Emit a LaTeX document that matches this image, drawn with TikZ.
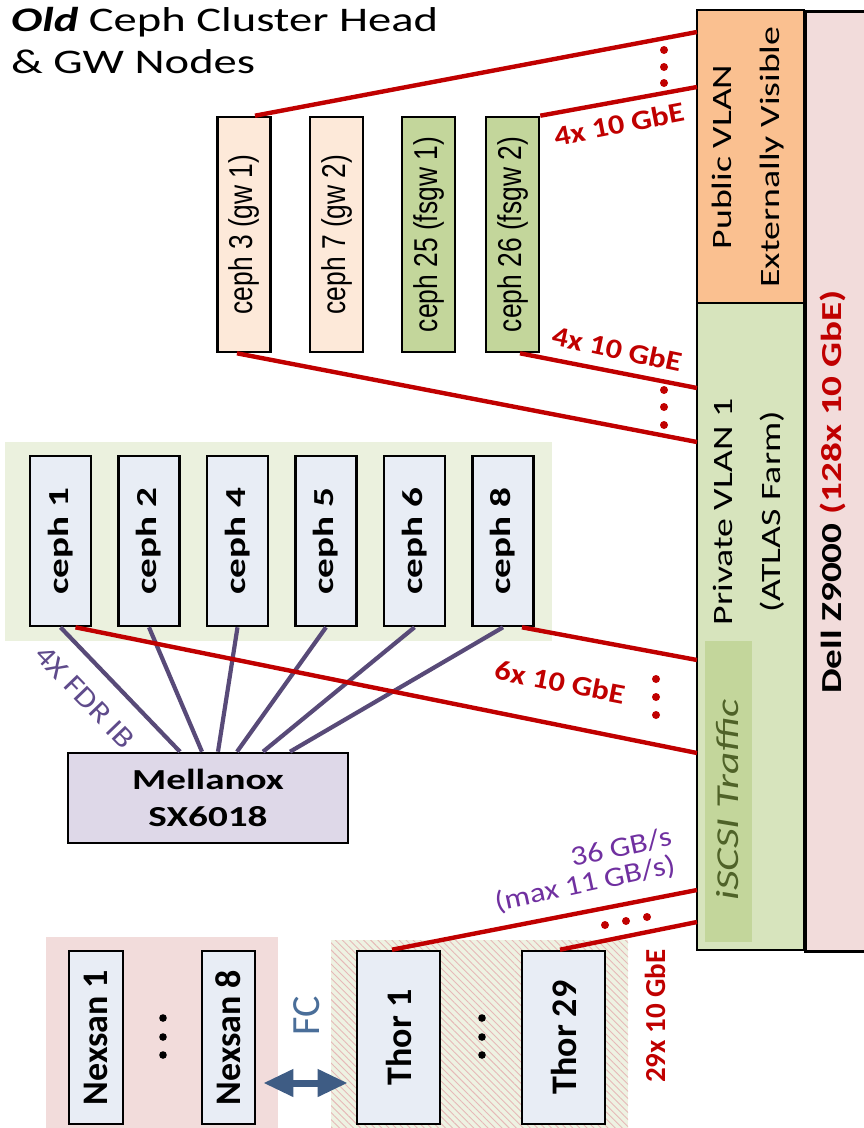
\documentclass[tikz,border=0pt]{standalone}
\usepackage{fontspec}
\setmainfont{Carlito}
\newfontfamily\widefont[FakeStretch=1.35]{Carlito}
\newfontfamily\midfont[FakeStretch=1.15]{Carlito}
\newfontfamily\gwfont[FakeStretch=0.8]{Liberation Sans}
\usetikzlibrary{positioning,calc,arrows.meta,patterns.meta}
\definecolor{linkred}{HTML}{C00000}
\definecolor{ibpurple}{HTML}{584A78}
\definecolor{fdrpurple}{HTML}{5F4B8B}
\definecolor{lblpurple}{HTML}{7030A0}
\definecolor{gwpeach}{HTML}{FDE9D9}
\definecolor{gwgreen}{HTML}{C3D69B}
\definecolor{storfill}{HTML}{E8EDF5}
\definecolor{storbg}{HTML}{EBF1DE}
\definecolor{mlxfill}{HTML}{DED8E8}
\definecolor{pubfill}{HTML}{FAC090}
\definecolor{privfill}{HTML}{D7E4BD}
\definecolor{iscsifill}{HTML}{C3D69B}
\definecolor{iscsitext}{HTML}{4F6228}
\definecolor{dellfill}{HTML}{F2DCDB}
\definecolor{nexbg}{HTML}{F2DCDB}
\definecolor{thorbg}{HTML}{EEF2E2}
\definecolor{hatchred}{HTML}{E6B9B8}
\definecolor{fcblue}{HTML}{3E5C84}
\definecolor{fctext}{HTML}{4A6E99}
\newcommand{\setfs}[1]{\fontsize{#1}{#1}\selectfont}
\tikzset{
  box/.style={draw, line width=2.6pt, inner sep=0pt},
  gwbox/.style={box, minimum width=53pt, minimum height=235pt, font=\gwfont\setfs{33}},
  storbox/.style={box, fill=storfill, minimum width=61pt, minimum height=170pt, font=\widefont\bfseries\setfs{29}},
  arraybox/.style={box, fill=storfill, minimum height=173pt, font=\bfseries\setfs{36}},
  redlink/.style={draw=linkred, line width=4.4pt},
  iblink/.style={draw=ibpurple, line width=4.2pt},
  redlbl/.style={text=linkred, font=\midfont\bfseries\setfs{28}, inner sep=0pt},
  fcarrow/.style={draw=fcblue, line width=7pt, {Triangle[width=26pt,length=30pt]}-{Triangle[width=26pt,length=30pt]}, shorten <=7pt, shorten >=8pt}
}

\begin{document}
\begin{tikzpicture}[x=1pt,y=-1pt]
\useasboundingbox (0,0) rectangle (863,1128);
% group backgrounds
\fill[storbg] (5,442) rectangle (552,641);
\fill[nexbg] (46,937) rectangle (278,1140);
\fill[thorbg] (331,940) rectangle (628,1140);
\fill[pattern={Lines[angle=-45,distance=5pt,line width=0.9pt]}, pattern color=hatchred] (331,940) rectangle (628,1140);

% title
\node[anchor=base west, font=\widefont\setfs{34.5}, inner sep=0pt] (head1) at (11,31) {\textbf{\textit{Old}} Ceph Cluster Head};
\node[anchor=base west, font=\widefont\setfs{34.5}, inner sep=0pt] (head2) at ([yshift=-42pt]head1.base west) {\& GW Nodes};

% switch
\node[box, fill=dellfill, anchor=north west, minimum width=130pt, minimum height=940pt] (dell) at (804,10) {};
\node[box, fill=pubfill, minimum width=107pt, minimum height=293pt] (pub) at (750.5,156.5) {};
\node[box, fill=privfill, minimum width=107pt, minimum height=647pt] (priv) at (750.5,626.5) {};
\node[fill=iscsifill, minimum width=47pt, minimum height=301pt, inner sep=0pt] (iscsi) at (728.5,791.5) {};
\node[text=iscsitext, font=\widefont\setfs{32}] (iscsitxt) at (728,800) {\rotatebox{90}{\textit{iSCSI Traffic}}};
\node[font=\widefont\fontsize{28}{48}\selectfont] (pubtxt) at (746,157) {\rotatebox{90}{\begin{tabular}{@{}c@{}}Public VLAN\\Externally Visible\end{tabular}}};
\node[font=\widefont\fontsize{28}{48}\selectfont] (privtxt) at (747,512) {\rotatebox{90}{\begin{tabular}{@{}c@{}}Private VLAN 1\\(ATLAS Farm)\end{tabular}}};
\node[font=\widefont\bfseries\setfs{29}] (delltxt) at (833,492) {\rotatebox{90}{Dell Z9000 \textcolor{linkred}{(128x 10 GbE)}}};

\coordinate (sw1) at (697,32);
\coordinate (sw2) at (697,87);
\coordinate (sw3) at (697,388);
\coordinate (sw4) at (697,442);
\coordinate (sw5) at (697,660);
\coordinate (sw6) at (697,753);
\coordinate (sw7) at (697,890);
\coordinate (sw8) at (697,922);

% head and gateway nodes
\node[gwbox, fill=gwpeach] (g3) at (244,234.5) {\rotatebox{90}{ceph 3 (gw 1)}};
\node[gwbox, fill=gwpeach] (g7) at (336.5,234.5) {\rotatebox{90}{ceph 7 (gw 2)}};
\node[gwbox, fill=gwgreen] (g25) at (428.5,234.5) {\rotatebox{90}{ceph 25 (fsgw 1)}};
\node[gwbox, fill=gwgreen] (g26) at (512.5,234.5) {\rotatebox{90}{ceph 26 (fsgw 2)}};

% storage nodes and IB switch
\foreach \n [count=\k] in {1,2,4,5,6,8}
  \node[storbox] (c\n) at ({60.5+88.5*(\k-1)},541) {\rotatebox{90}{ceph \n}};
\node[box, fill=mlxfill, minimum width=280pt, minimum height=90pt, align=center, font=\widefont\bfseries\fontsize{29}{37}\selectfont] (mlx) at (208,798) {Mellanox\\SX6018};
\foreach \n/\s in {1/-28,2/-6,4/10,5/29,6/55,8/82}
  \draw[iblink] (c\n.south) -- ([xshift=\s pt]mlx.north);
\node[text=fdrpurple, font=\midfont\setfs{29}, rotate=-46] (fdr) at (85,697) {4X FDR IB};

% disk arrays
\node[arraybox, minimum width=54pt] (n1) at (96,1037.5) {\rotatebox{90}{Nexsan 1}};
\node[arraybox, minimum width=53pt] (n8) at (228.5,1037.5) {\rotatebox{90}{Nexsan 8}};
\node[arraybox, minimum width=83pt] (t1) at (398.5,1037.5) {\rotatebox{90}{Thor 1}};
\node[arraybox, minimum width=83pt] (t29) at (563.5,1037.5) {\rotatebox{90}{Thor 29}};
\foreach \yy in {1018,1037,1055} {
  \fill (163,\yy) circle (3.8pt);
  \fill (482,\yy) circle (3.8pt);
}
\draw[fcarrow] ([yshift=-45.5pt]n8.east) -- ([yshift=-45.5pt]t1.west);
\node[text=fctext, font=\setfs{40}, rotate=90] (fc) at (307,1016) {FC};

% 10 GbE uplinks
\draw[redlink] ([xshift=11pt]g3.north) -- (sw1);
\draw[redlink] (g26.north east) -- (sw2);
\draw[redlink] ([xshift=7.5pt]g26.south) -- (sw3);
\draw[redlink] ([xshift=-7pt]g3.south) -- (sw4);
\draw[redlink] ([xshift=19pt]c8.south) -- (sw5);
\draw[redlink] ([xshift=15pt]c1.south) -- (sw6);
\draw[redlink] ([xshift=-6.5pt]t1.north) -- (sw7);
\draw[redlink] ([xshift=-3.5pt]t29.north) -- (sw8);
\foreach \yy in {50,67,83} \fill[linkred] (664,\yy) circle (4pt);
\foreach \yy in {390,407,425} \fill[linkred] (664,\yy) circle (4pt);
\foreach \yy in {679,697,715} \fill[linkred] (656,\yy) circle (4pt);
\foreach \xx/\yy in {605/925,626/921,647/917} \fill[linkred] (\xx,\yy) circle (4pt);

\node[redlbl, rotate=11] (l1) at (619,124) {4x 10 GbE};
\node[redlbl, rotate=-12] (l2) at (617,349) {4x 10 GbE};
\node[redlbl, rotate=-11] (l3) at (560,682) {6x 10 GbE};
\node[text=lblpurple, font=\midfont\setfs{28}, rotate=12] (bw1) at (621,847) {36 GB/s};
\node[text=lblpurple, font=\midfont\setfs{28}, rotate=12] (bw2) at (585,884) {(max 11 GB/s)};
\node[redlbl, font=\bfseries\setfs{29}, rotate=90] (l29) at (655,1016) {29x 10 GbE};
\end{tikzpicture}
\end{document}
